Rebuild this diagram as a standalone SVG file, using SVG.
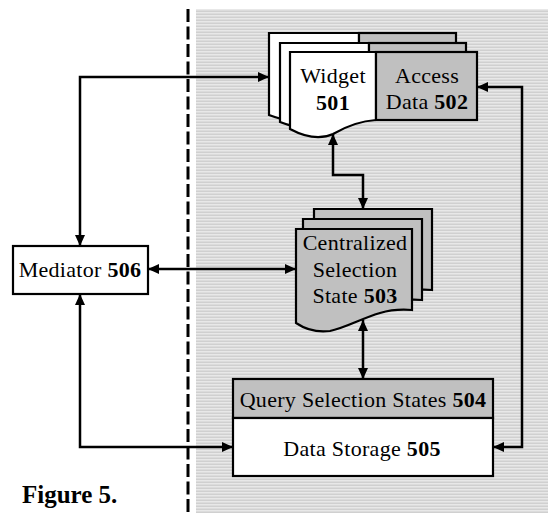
<svg xmlns="http://www.w3.org/2000/svg" width="548" height="513" viewBox="0 0 548 513">
  <defs>
    <pattern id="stripes" width="4" height="3" patternUnits="userSpaceOnUse">
      <rect width="4" height="3" fill="#e8e8e8"/>
      <rect y="1.5" width="4" height="1.5" fill="#d0d0d0"/>
    </pattern>
    <marker id="arrow" viewBox="0 0 11 10" refX="11" refY="5" markerWidth="11" markerHeight="10" markerUnits="userSpaceOnUse" orient="auto-start-reverse">
      <path d="M0,0 L11,5 L0,10 Z" fill="#000"/>
    </marker>
  </defs>
  <style>
    text { font-family: "Liberation Serif", serif; }
    .lbl { font-size: 22px; fill: #000; text-anchor: middle; letter-spacing: 0.3px; }
    .num { font-weight: bold; }
    .box { stroke: #000; stroke-width: 2.2; }
    .white { fill: #fff; }
    .grey { fill: #c0c0c0; }
    .conn { fill: none; stroke: #000; stroke-width: 2.5; marker-start: url(#arrow); marker-end: url(#arrow); }
  </style>

  <!-- shaded region right of the boundary -->
  <rect x="196" y="9" width="352" height="504" fill="url(#stripes)"/>
  <!-- boundary line -->
  <line x1="188" y1="9" x2="188" y2="513" stroke="#000" stroke-width="3" stroke-dasharray="13,4.5"/>

  <!-- Widget / Access Data stack -->
  <g id="widget-501">
    <path class="box white" d="M269,33 H359 V108 C345,110 330,114 318,119 C300,124 285,121 269,115 Z"/>
    <rect class="box grey" x="359" y="33" width="97" height="75"/>
    <path class="box white" d="M280,43 H369 V114 C355,116 340,120 328,125 C310,130 295,128 280,122 Z"/>
    <rect class="box grey" x="369" y="43" width="97" height="71"/>
    <path class="box white" d="M290,52 H376 V120 C360,121 345,127 333,134 C320,140 305,137 290,129 Z"/>
    <text class="lbl" x="333" y="83">Widget</text>
    <text class="lbl num" x="333" y="110">501</text>
  </g>
  <g id="access-data-502">
    <rect class="box grey" x="376" y="52" width="101" height="68"/>
    <text class="lbl" x="427" y="83">Access</text>
    <text class="lbl" x="427" y="109">Data <tspan class="num">502</tspan></text>
  </g>

  <!-- Centralized Selection State stack -->
  <g id="selection-state-503">
    <path class="box grey" d="M314,209 H432 V290 C420,289 410,290 400,293 C380,299 365,308 350,311 C335,313 325,309 314,304 Z"/>
    <path class="box grey" d="M303,219 H422 V300 C410,299 400,300 390,303 C370,309 355,318 340,321 C325,323 314,319 303,314 Z"/>
    <path class="box grey" d="M296,229 H412 V310 C400,309 390,310 380,313 C360,319 345,328 330,331 C315,333 305,329 296,323 Z"/>
    <text class="lbl" x="355" y="250">Centralized</text>
    <text class="lbl" x="355" y="277">Selection</text>
    <text class="lbl" x="355" y="303">State <tspan class="num">503</tspan></text>
  </g>

  <!-- Query Selection States -->
  <g id="query-states-504">
    <rect class="box grey" x="233" y="379" width="260" height="39"/>
    <text class="lbl" x="363" y="407">Query Selection States <tspan class="num">504</tspan></text>
  </g>

  <!-- Data Storage -->
  <g id="data-storage-505">
    <rect class="box white" x="233" y="418" width="260" height="58"/>
    <text class="lbl" x="362" y="456">Data Storage <tspan class="num">505</tspan></text>
  </g>

  <!-- Mediator -->
  <g id="mediator-506">
    <rect class="box white" x="13" y="246" width="135" height="48"/>
    <text class="lbl" x="80" y="277">Mediator <tspan class="num">506</tspan></text>
  </g>

  <!-- connectors -->
  <g id="connectors">
    <path class="conn" d="M80,246 V77 H269"/>
    <path class="conn" d="M80,294 V447 H233"/>
    <path class="conn" d="M148,269 H296"/>
    <path class="conn" d="M333,134 V175 H363 V209"/>
    <path class="conn" d="M363,320 V379"/>
    <path class="conn" d="M477,87 H522 V447 H493"/>
  </g>

  <text x="22" y="503" font-size="25" font-weight="bold">Figure 5.</text>
</svg>
